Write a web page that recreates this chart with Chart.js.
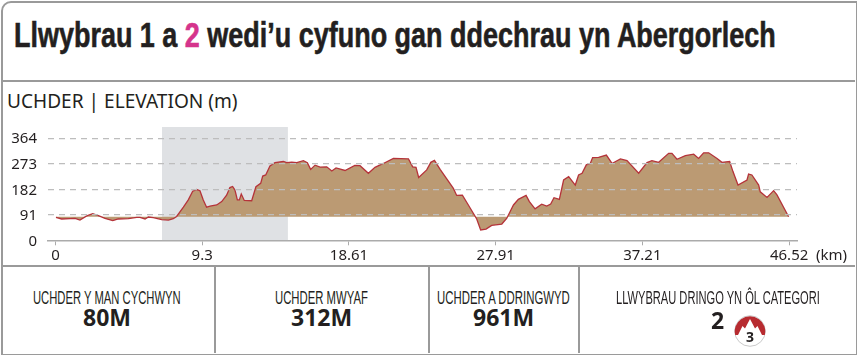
<!DOCTYPE html>
<html>
<head>
<meta charset="utf-8">
<script src="https://cdn.jsdelivr.net/npm/chart.js@4/dist/chart.umd.min.js"></script>
<style>
html, body { margin: 0; padding: 0; background: #fff; }
#page { position: relative; width: 857px; height: 355px; overflow: hidden; color: #231f20; font-family: "Noto Sans", sans-serif; }
#frame { position: absolute; left: 1px; top: 1px; width: 853px; height: 351px; border: 2px solid #9a9a9a; border-top-left-radius: 10px; }
.rule { position: absolute; background: #9a9a9a; }
.fit { position: absolute; white-space: nowrap; transform-origin: left center; }
#title { left: 14px; top: 15px; font: bold 35px "Liberation Sans", sans-serif; line-height: 40px; -webkit-text-stroke: 0.6px #231f20; }
#title span { color: #d5348c; -webkit-text-stroke: 0.6px #d5348c; }
#sub { left: 7px; top: 87px; font-size: 20px; line-height: 28px; }
#km { left: 816px; top: 244px; font-size: 15px; line-height: 20px; }
.label { top: 287px; font: 19px "Liberation Sans", sans-serif; line-height: 22px; }
.value { top: 304px; font: bold 23px "Noto Sans", sans-serif; line-height: 26px; }
canvas { position: absolute; left: 0; top: 120px; }
#icon { position: absolute; left: 734px; top: 315px; }
</style>
</head>
<body>
<div id="page">
  <div id="frame"></div>
  <div class="rule" style="left:2px;top:80px;width:853px;height:2px"></div>
  <div class="rule" style="left:2px;top:265px;width:853px;height:2px"></div>
  <div class="rule" style="left:214px;top:265px;width:2px;height:88px"></div>
  <div class="rule" style="left:428px;top:265px;width:2px;height:88px"></div>
  <div class="rule" style="left:578px;top:265px;width:2px;height:88px"></div>
  <div class="fit" id="title" data-w="762">Llwybrau 1 a <span>2</span> wedi’u cyfuno gan ddechrau yn Abergorlech</div>
  <div class="fit" id="sub" data-w="231">UCHDER | ELEVATION (m)</div>
  <canvas id="profile" width="857" height="145"></canvas>
  <div class="fit" id="km" data-w="31">(km)</div>
  <div class="fit label" style="left:33px" data-w="148">UCHDER Y MAN CYCHWYN</div>
  <div class="fit value" style="left:83px" data-w="48">80M</div>
  <div class="fit label" style="left:275px" data-w="93">UCHDER MWYAF</div>
  <div class="fit value" style="left:291px" data-w="61">312M</div>
  <div class="fit label" style="left:437px" data-w="133">UCHDER A DDRINGWYD</div>
  <div class="fit value" style="left:473px" data-w="61">961M</div>
  <div class="fit label" style="left:616px" data-w="204">LLWYBRAU DRINGO YN ÔL CATEGORI</div>
  <div class="fit value" style="left:711px;top:307px">2</div>
  <svg id="icon" width="32" height="32" viewBox="0 0 32 32">
    <circle cx="16" cy="16" r="15.3" fill="#fff" stroke="#c9c9c9" stroke-width="1"/>
    <path d="M1.2 20 A14.8 14.8 0 0 1 7 4.2 A14.8 14.8 0 0 1 25 4.2 A14.8 14.8 0 0 1 30.8 20 L28 20 L23.5 11 L21 13.5 L16 4 L11 13.5 L8.5 11 L4 20 Z" fill="#b72b30"/>
    <text x="16" y="27" text-anchor="middle" font-family="Noto Sans" font-weight="bold" font-size="14" fill="#231f20">3</text>
  </svg>
</div>
<script>
var profileKm = [0.03, 0.39, 0.92, 1.24, 1.55, 1.98, 2.36, 2.72, 3.14, 3.63, 3.98, 4.62, 5.15, 5.36, 5.68, 5.89, 6.2, 6.73, 7.16, 7.47, 7.68,
  8.11, 8.42, 8.7, 8.95, 9.16, 9.37, 9.58, 9.8, 10.22, 10.54, 10.85, 11.06, 11.23, 11.38, 11.53, 11.66, 11.78, 11.97, 12.44, 12.71, 13.01, 13.14, 13.33, 13.6, 13.92, 14.45,
  14.66, 14.98, 15.3, 15.72, 15.97, 16.18, 16.46, 16.78, 17.2, 17.52, 17.79, 18.36, 18.98, 19.31, 19.84, 20.26, 20.79, 21.43, 22.38, 22.65, 22.86, 23.03, 23.54, 23.8, 24.03, 24.39, 25.23, 25.44, 25.8, 26.18, 26.71, 26.96, 27.3, 27.66, 28.3, 28.61, 29.04, 29.35, 29.84, 30.05, 30.41, 30.83, 31.15, 31.4, 31.61, 31.95,
  32.22, 32.54, 32.96, 33.17, 33.39, 33.66, 33.91, 34.06, 34.44, 34.93, 35.29, 35.82, 36.24, 36.98, 37.51, 37.82, 38.25, 38.88, 39.09, 39.41, 39.94, 40.47, 40.78, 41.1, 41.42, 41.95, 42.26, 42.75, 42.96, 43.28, 43.85, 43.95, 44.16, 44.59, 44.69, 45.12, 45.54, 45.75, 46.49];
var profileM = [82, 76, 77, 78, 72, 87, 95, 88, 78, 70, 76, 77, 82, 82, 76, 83, 81, 74, 72, 77, 85,
  118, 144, 175, 181, 177, 144, 118, 122, 126, 138, 161, 188, 192, 179, 144, 144, 165, 142, 141, 191, 203, 229, 233, 265, 277, 281,
  277, 279, 277, 284, 277, 253, 268, 261, 262, 247, 258, 249, 267, 266, 239, 260, 274, 292, 290, 262, 260, 224, 251, 278, 285, 253, 185, 160, 161, 126, 76, 37, 40, 53, 58, 78, 126, 146, 160, 138, 112, 129, 122, 129, 152, 146,
  215, 227, 197, 233, 239, 269, 274, 295, 296, 304, 274, 290, 284, 239, 277, 284, 278, 310, 310, 289, 302, 307, 292, 312, 312, 292, 278, 281, 245, 197, 215, 236, 233, 197, 173, 153, 177, 162, 84];
var xTicks = [0, 9.3, 18.61, 27.91, 37.21, 46.52];
var yTicks = [0, 91, 182, 273, 364];
var climbKm = [6.75, 14.74];
var climbTop = [404, 404];
var fillBase = 84;

function pairs(xs, ys) {
  return xs.map(function (x, i) { return { x: x, y: ys[i] }; });
}

// no condensed font here, so squeeze each text to the width it has in the picture
document.querySelectorAll('.fit[data-w]').forEach(function (el) {
  el.style.transform = 'scaleX(' + (el.dataset.w / el.offsetWidth) + ')';
});

var tickFont = { family: 'Noto Sans', size: 15 };

function noPadding(s) {
  s.paddingTop = s.paddingBottom = s.paddingLeft = s.paddingRight = 0;
}

new Chart(document.getElementById('profile').getContext('2d'), {
  type: 'line',
  data: {
    datasets: [
      {
        data: pairs(profileKm, profileM),
        borderColor: '#b5333a',
        borderWidth: 1.3,
        pointRadius: 0,
        tension: 0,
        fill: { value: fillBase, above: '#bb9a73', below: '#bb9a73' },
        order: 1
      },
      {
        data: pairs(climbKm, climbTop),
        borderWidth: 0,
        pointRadius: 0,
        backgroundColor: '#dfe1e4',
        fill: 'origin',
        order: 2
      }
    ]
  },
  options: {
    responsive: false,
    animation: false,
    layout: { padding: { left: 0, right: 60, top: 7, bottom: 0 } },
    plugins: { legend: { display: false }, tooltip: { enabled: false } },
    scales: {
      x: {
        type: 'linear',
        min: -0.476,
        max: 47.02,
        afterBuildTicks: function (s) { s.ticks = xTicks.map(function (v) { return { value: v }; }); },
        afterFit: function (s) { s.height = 24.7; noPadding(s); },
        border: { color: '#ababab', width: 1.5 },
        grid: { drawOnChartArea: false, tickLength: 5, color: '#ababab' },
        ticks: {
          font: tickFont, color: '#231f20', padding: 1, autoSkip: false, maxRotation: 0,
          callback: function (v) { return String(v); }
        }
      },
      y: {
        min: 0,
        max: 404,
        afterBuildTicks: function (s) { s.ticks = yTicks.map(function (v) { return { value: v }; }); },
        afterFit: function (s) { s.width = 48; noPadding(s); },
        border: { display: false, dash: [6, 5] },
        grid: {
          z: 1,
          drawTicks: false,
          lineWidth: 1.2,
          color: function (c) { return c.tick && c.tick.value === 0 ? 'rgba(0,0,0,0)' : '#bdbdbd'; }
        },
        ticks: { font: tickFont, color: '#231f20', padding: 11, labelOffset: 1 }
      }
    }
  }
});
</script>
</body>
</html>
